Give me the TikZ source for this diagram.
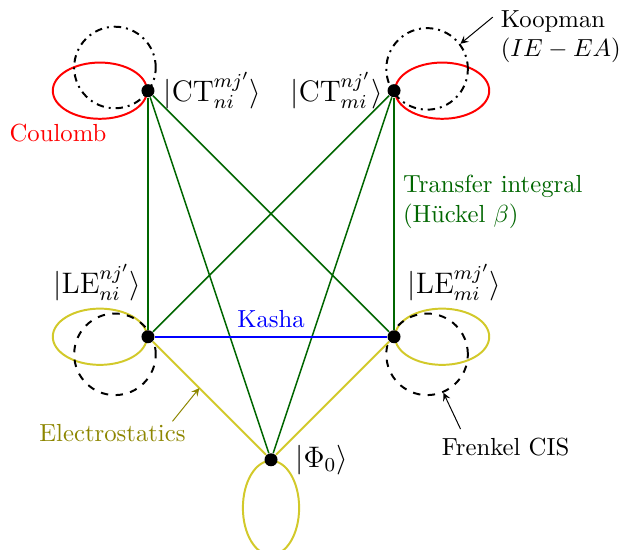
\documentclass[tikz,border=0pt]{standalone}
\usetikzlibrary{shapes.geometric,calc,backgrounds}
\colorlet{hopgreen}{green!40!black}
\colorlet{eyellow}{yellow!80!black}
\begin{document}
\begin{tikzpicture}[
      dot/.style={circle, fill, inner sep=0pt, minimum size=1.85mm},
      ket/.style={font=\large},
      orbit/.style={ellipse, draw, thick, inner sep=0pt, minimum width=1.34cm, minimum height=0.8cm},
      ring/.style={circle, draw, thick, inner sep=0pt, minimum size=1.16cm},
      hop/.style={hopgreen, semithick},
      pointer/.style={-stealth, thin}
    ]
      \useasboundingbox (-3.855,-1.28) rectangle (4.964,6.54);
      \node[dot, label={[ket]right:{$|\mathrm{CT}^{mj'}_{ni}\rangle$}}] (ctni) at (-1.75,5.25) {};
      \node[dot, label={[ket, xshift=0.06cm]left:{$|\mathrm{CT}^{nj'}_{mi}\rangle$}}] (ctmi) at (1.75,5.25) {};
      \node[dot, label={[ket, xshift=0.1cm, yshift=0.31cm]above left:{$|\mathrm{LE}^{nj'}_{ni}\rangle$}}] (leni) at (-1.75,1.75) {};
      \node[dot, label={[ket, yshift=0.31cm]above right:{$|\mathrm{LE}^{mj'}_{mi}\rangle$}}] (lemi) at (1.75,1.75) {};
      \node[dot, label={[ket, label distance=3.5pt]right:{$|\Phi_0\rangle$}}] (phi) at (0,0) {};
      \begin{scope}[on background layer]
        \node[orbit, draw=red, anchor=east] (ctniorbit) at (ctni.center) {};
        \node[orbit, draw=red, anchor=west] (ctmiorbit) at (ctmi.center) {};
        \node[orbit, draw=eyellow, anchor=east] (leniorbit) at (leni.center) {};
        \node[orbit, draw=eyellow, anchor=west] (lemiorbit) at (lemi.center) {};
        \node[orbit, draw=eyellow, minimum width=0.8cm, minimum height=1.34cm, anchor=north] (phiorbit) at (phi.center) {};
        \node[ring, dash dot] (ctniring) at ($(ctni)+(-0.47,0.33)$) {};
        \node[ring, dash dot] (ctmiring) at ($(ctmi)+(0.47,0.31)$) {};
        \node[ring, dashed] (lenring) at ($(leni)+(-0.47,-0.25)$) {};
        \node[ring, dashed] (lemring) at ($(lemi)+(0.47,-0.25)$) {};
      \end{scope}
      \draw[hop] (ctni) -- (leni);
      \draw[hop] (ctni) -- (lemi);
      \draw[hop] (ctni) -- (phi);
      \draw[hop] (ctmi) -- (leni);
      \draw[hop] (ctmi) -- node[right, pos=0.45, align=left] {Transfer integral\\(H\"uckel $\beta$)} (lemi);
      \draw[hop] (ctmi) -- (phi);
      \draw[blue, line width=0.7pt] (leni) -- node[above] {Kasha} (lemi);
      \draw[eyellow, thick] (leni) -- coordinate[pos=0.41] (espoint) (phi);
      \draw[eyellow, thick] (lemi) -- (phi);
      \node[red] (coulomb) at (-3.03,4.65) {Coulomb};
      \node[anchor=west, align=left] (koopman) at (3.144,6.017) {Koopman\\$(IE-EA)$};
      \node[olive] (electro) at (-2.255,0.384) {Electrostatics};
      \node (frenkel) at (3.336,0.185) {Frenkel CIS};
      \draw[pointer] ($(koopman.north west)+(0.01,-0.22)$) -- (ctmiring.37);
      \draw[pointer, olive] ($(electro.north east)+(-0.31,-0.085)$) -- (espoint);
      \draw[pointer] ($(frenkel.north)+(-0.64,0)$) -- (lemring.-67);
    \end{tikzpicture}
\end{document}
